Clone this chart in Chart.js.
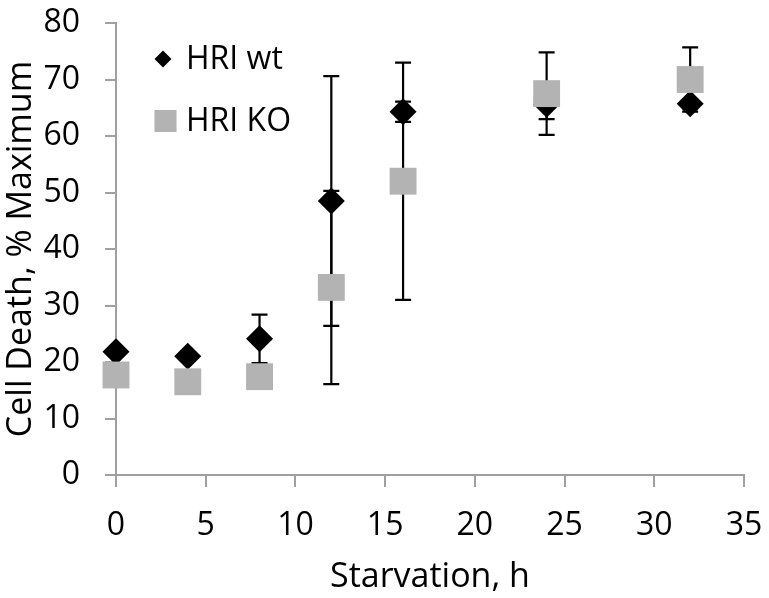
<!DOCTYPE html>
<html lang="en">
<head>
  <meta charset="UTF-8">
  <title>Cell Death vs Starvation</title>
  <script src="https://cdn.jsdelivr.net/npm/chart.js"></script>
  <style>
    body { margin: 0; background: #fff; }
    #wrap { width: 769px; height: 598px; }
  </style>
</head>
<body>
  <div id="wrap"><canvas id="deathChart" width="769" height="598"></canvas></div>

  <script>
    // starvation time points (h)
    const hours = [0, 4, 8, 12, 16, 24, 32];
    // HRI wild type, mean and error
    const wtMean = [21.8, 21.0, 24.1, 48.5, 64.3, 65.6, 65.7];
    const wtErr  = [0.5, 0.5, 4.3, 22.1, 1.8, 2.6, 0.8];
    // HRI knockout, mean and error
    const koMean = [17.7, 16.5, 17.4, 33.2, 52.0, 67.5, 70.0];
    const koErr  = [1.0, 1.0, 1.5, 17.1, 21.0, 7.3, 5.7];

    const xTicks = [0, 5, 10, 15, 20, 25, 30, 35];
    const yTicks = [0, 10, 20, 30, 40, 50, 60, 70, 80];

    const FONT = "'Open Sans', sans-serif";
    const axisGray = '#a0a0a0';
    const koGray = '#b3b3b3';

    function toPoints(xs, ys, errs) {
      return xs.map((x, i) => ({ x: x, y: ys[i], err: errs[i] }));
    }

    // vertical error bars with caps, drawn underneath the markers
    const errorBars = {
      id: 'errorBars',
      beforeDatasetsDraw(chart) {
        const ctx = chart.ctx;
        const xs = chart.scales.x, ys = chart.scales.y;
        ctx.save();
        ctx.strokeStyle = '#000';
        ctx.lineWidth = 2.2;
        chart.data.datasets.forEach(ds => {
          ds.data.forEach(p => {
            const px = xs.getPixelForValue(p.x);
            const top = ys.getPixelForValue(p.y + p.err);
            const bot = ys.getPixelForValue(p.y - p.err);
            ctx.beginPath();
            ctx.moveTo(px, top); ctx.lineTo(px, bot);
            ctx.moveTo(px - 8, top); ctx.lineTo(px + 8, top);
            ctx.moveTo(px - 8, bot); ctx.lineTo(px + 8, bot);
            ctx.stroke();
          });
        });
        ctx.restore();
      }
    };

    // legend sitting inside the plot, top left
    const insideLegend = {
      id: 'insideLegend',
      afterDraw(chart) {
        const ctx = chart.ctx;
        const items = [
          { text: 'HRI wt', style: 'rectRot', color: '#000', r: 8.5, cx: 163, cy: 59 },
          { text: 'HRI KO', style: 'rect', color: koGray, r: 15.6, cx: 165.5, cy: 121 }
        ];
        ctx.save();
        items.forEach(it => {
          ctx.fillStyle = it.color;
          ctx.strokeStyle = it.color;
          Chart.helpers.drawPoint(ctx, { pointStyle: it.style, radius: it.r, borderWidth: 0 }, it.cx, it.cy);
          ctx.fillStyle = '#000';
          ctx.font = '32px ' + FONT;
          ctx.textBaseline = 'middle';
          ctx.textAlign = 'left';
          ctx.fillText(it.text, 186, it.cy + 1);
        });
        ctx.restore();
      }
    };

    const ctx = document.getElementById('deathChart').getContext('2d');
    new Chart(ctx, {
      type: 'scatter',
      data: {
        datasets: [
          {
            label: 'HRI wt',
            data: toPoints(hours, wtMean, wtErr),
            pointStyle: 'rectRot',
            pointRadius: 13.5,
            pointHoverRadius: 13.5,
            pointBorderWidth: 0,
            backgroundColor: '#000',
            borderColor: '#000',
            clip: false,
            order: 2
          },
          {
            label: 'HRI KO',
            data: toPoints(hours, koMean, koErr),
            pointStyle: 'rect',
            pointRadius: 19,
            pointHoverRadius: 19,
            pointBorderWidth: 0,
            backgroundColor: koGray,
            borderColor: koGray,
            clip: false,
            order: 1
          }
        ]
      },
      options: {
        responsive: false,
        animation: false,
        events: [],
        layout: { autoPadding: false, padding: { left: 0, right: 25, top: 23, bottom: 0 } },
        plugins: {
          legend: { display: false },
          tooltip: { enabled: false }
        },
        scales: {
          x: {
            type: 'linear',
            min: 0, max: 35,
            afterBuildTicks: s => { s.ticks = xTicks.map(v => ({ value: v })); },
            afterFit: s => { s.height = 123; s.paddingLeft = 0; s.paddingRight = 0; },
            border: { color: axisGray, width: 2 },
            grid: { drawOnChartArea: false, tickLength: 12, color: axisGray, lineWidth: 2 },
            ticks: { color: '#000', padding: 20, font: { family: FONT, size: 32 } },
            title: {
              display: true, text: 'Starvation, h', color: '#000',
              font: { family: FONT, size: 34 }, padding: { top: 4, bottom: 0 }
            }
          },
          y: {
            type: 'linear',
            min: 0, max: 80,
            afterBuildTicks: s => { s.ticks = yTicks.map(v => ({ value: v })); },
            afterFit: s => { s.width = 116; s.paddingTop = 0; s.paddingBottom = 0; },
            border: { color: axisGray, width: 2 },
            grid: { drawOnChartArea: false, tickLength: 11, color: axisGray, lineWidth: 2 },
            ticks: { color: '#000', padding: 25, font: { family: FONT, size: 32 } },
            title: {
              display: true, text: 'Cell Death, % Maximum', color: '#000',
              font: { family: FONT, size: 34 }, padding: { top: 1, bottom: 4 }
            }
          }
        }
      },
      plugins: [errorBars, insideLegend]
    });
  </script>
</body>
</html>
